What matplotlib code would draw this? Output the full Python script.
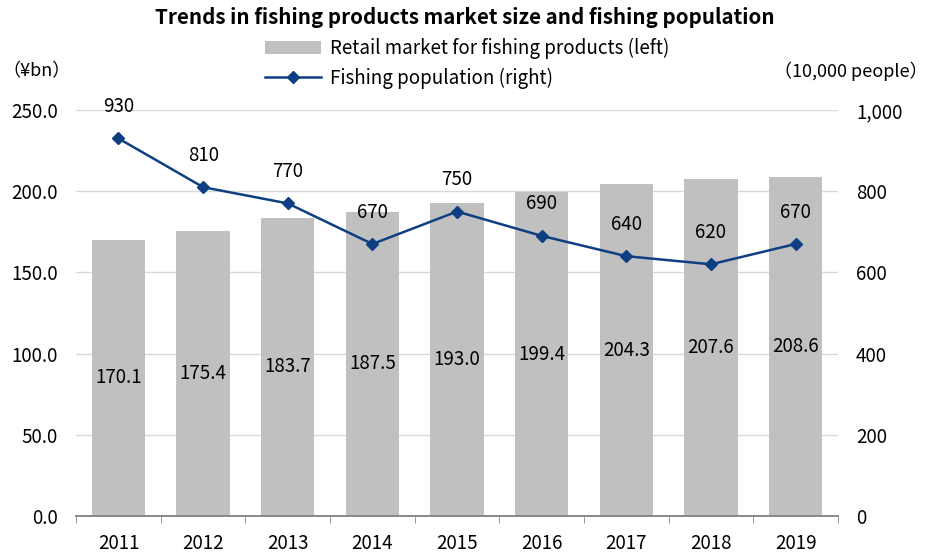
import matplotlib
matplotlib.use('Agg')
import matplotlib.pyplot as plt
import numpy as np

plt.rcParams['font.family'] = ['Noto Sans CJK JP', 'DejaVu Sans']

years = ['2011', '2012', '2013', '2014', '2015', '2016', '2017', '2018', '2019']
market = [170.1, 175.4, 183.7, 187.5, 193.0, 199.4, 204.3, 207.6, 208.6]
population = [930, 810, 770, 670, 750, 690, 640, 620, 670]

bar_color = '#c0c0c0'
line_color = '#0e3f82'
fs = 13.5

fig = plt.figure(figsize=(9.29, 5.53), dpi=100)
ax = fig.add_axes([0.082, 0.067, 0.820, 0.734])
ax2 = ax.twinx()

x = np.arange(len(years))
bars = ax.bar(x, market, width=0.63, color=bar_color, zorder=2,
              label='Retail market for fishing products (left)')
for xi, v in zip(x, market):
    ax.text(xi, v / 2, f'{v:.1f}', ha='center', va='center', fontsize=fs)

ln, = ax2.plot(x, population, color=line_color, lw=1.8, marker='D', markersize=6,
               label='Fishing population (right)', zorder=3)
for xi, v in zip(x, population):
    ax2.annotate(f'{v}', (xi, v), xytext=(0, 23), textcoords='offset points',
                 ha='center', va='center', fontsize=fs)

ax.set_xlim(-0.5, len(years) - 0.5)
ax.set_ylim(0, 250)
ax.set_yticks(np.arange(0, 251, 50))
ax.set_yticklabels([f'{t:.1f}' for t in np.arange(0, 251, 50)])
ax2.set_ylim(0, 1000)
ax2.set_yticks(np.arange(0, 1001, 200))
ax2.set_yticklabels([f'{t:,}' for t in range(0, 1001, 200)])

ax.set_xticks(x)
ax.set_xticklabels(years)
ax.set_xticks(np.arange(-0.5, len(years), 1), minor=True)
ax.tick_params(axis='x', which='major', length=0, pad=12, labelsize=fs)
ax.tick_params(axis='x', which='minor', length=5, color='#888888')
ax.tick_params(axis='y', length=0, pad=13, labelsize=fs)
ax2.tick_params(axis='y', length=0, pad=13, labelsize=fs)

ax.grid(axis='y', color='#d9d9d9', lw=1, zorder=0)
ax.set_axisbelow(True)
for a in (ax, ax2):
    for s in ('top', 'left', 'right'):
        a.spines[s].set_visible(False)
    a.spines['bottom'].set_color('#888888')
    a.spines['bottom'].set_linewidth(1.2)
ax.set_zorder(ax2.get_zorder() - 1)
ax2.patch.set_visible(False)
ax.patch.set_visible(True)

fig.text(0.5, 0.968, 'Trends in fishing products market size and fishing population',
         ha='center', va='center', fontsize=14.8, fontweight='bold')
fig.text(0.003, 0.872, '（¥bn）', ha='left', va='center', fontsize=13)
fig.text(0.998, 0.872, '（10,000 people）', ha='right', va='center', fontsize=13)

fig.legend([bars, ln], [bars.get_label(), ln.get_label()], loc='center',
           bbox_to_anchor=(0.503, 0.885), frameon=False, fontsize=fs,
           handlelength=3.0, labelspacing=0.45, borderaxespad=0, handletextpad=0.5)

fig.savefig('out.png', dpi=100)
